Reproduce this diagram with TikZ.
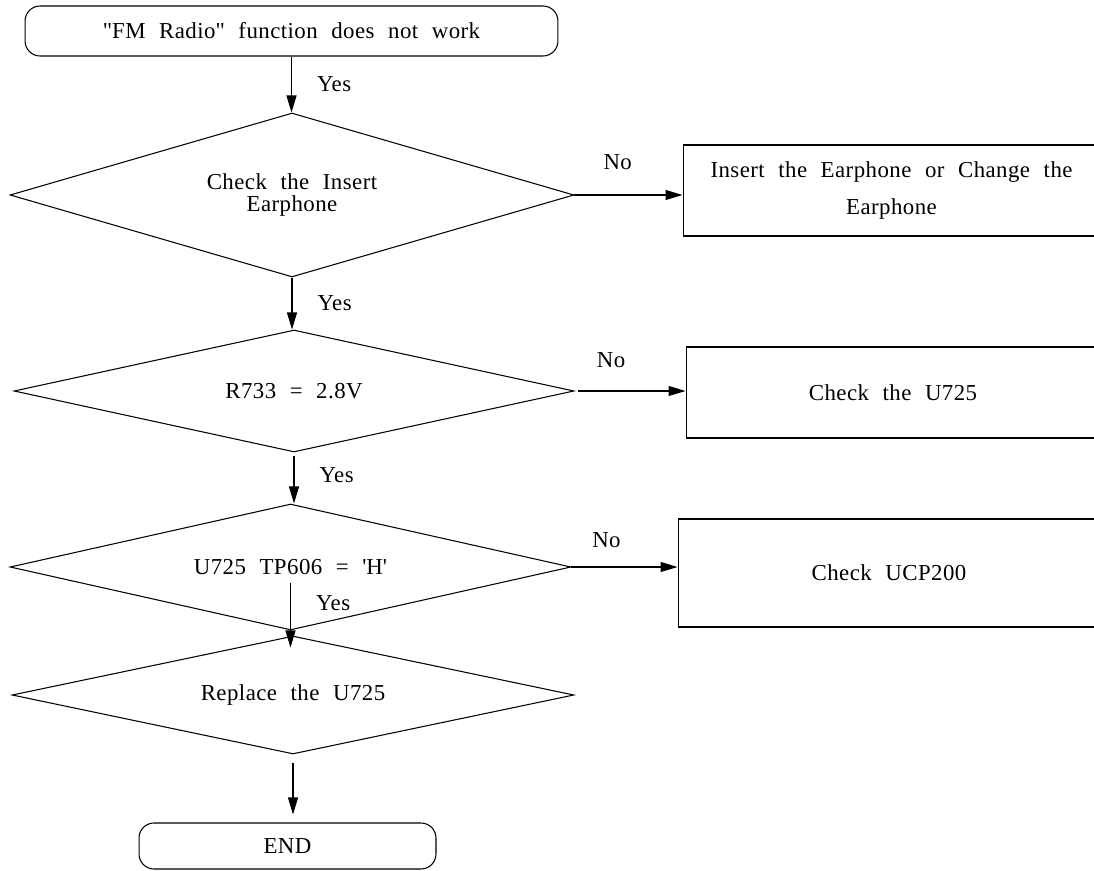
\documentclass[tikz,border=0pt]{standalone}
\usepackage{fontspec}
\setmainfont{Liberation Serif}[WordSpace=2.2, LetterSpace=2]
\usetikzlibrary{shapes.geometric,arrows.meta}

\begin{document}
\begin{tikzpicture}[x=0.02cm, y=-0.02cm,
    font=\fontsize{13}{15}\selectfont,
    line width=0.6pt,
    terminal/.style={draw, rounded corners=0.3cm, inner sep=0pt},
    decision/.style={draw, diamond, inner sep=0pt, align=center},
    action/.style={draw, rectangle, inner sep=0pt, align=center},
    flow/.style={-{Triangle[length=0.34cm, width=0.2cm]}},
    lbl/.style={inner sep=0pt}]
    \useasboundingbox (0,0) rectangle (1094,871);
    \clip (0,0) rectangle (1094,871);

    % Main column
    \node[terminal, minimum width=10.66cm, minimum height=1cm] (start) at (291.5,31)
        {\textquotedbl FM Radio\textquotedbl{} function does not work};
    \node[decision, aspect=3.44, minimum width=11.28cm, minimum height=3.28cm] (d1) at (292,195)
        {Check the Insert\\[-2.5pt]Earphone};
    \node[decision, aspect=4.59, minimum width=11.2cm, minimum height=2.44cm] (d2) at (294,391)
        {R733 = 2.8V};
    \node[decision, aspect=4.45, minimum width=11.22cm, minimum height=2.52cm] (d3) at (290.5,567)
        {U725 TP606 = \textquotesingle H\textquotesingle};
    \node[decision, aspect=4.76, minimum width=11.24cm, minimum height=2.36cm] (d4) at (293,695)
        {Replace the U725};
    \node[terminal, minimum width=5.94cm, minimum height=0.92cm] (end) at (287.5,846)
        {END};

    % Right column
    \node[action, minimum width=8.34cm, minimum height=1.82cm] (b1) at (891.5,190.5)
        {Insert the Earphone or Change the\\[6.6pt]Earphone};
    \node[action, minimum width=8.28cm, minimum height=1.82cm] (b2) at (893,392.5)
        {Check the U725};
    \node[action, minimum width=8.44cm, minimum height=2.16cm] (b3) at (889,573)
        {Check UCP200};

    % Yes arrows
    \draw[flow] (start.south) -- (start.south |- d1.north)
        node[lbl, midway, right=0.5cm] {Yes};
    \draw[flow] (d1.south) -- (d1.south |- d2.north)
        node[lbl, midway, right=0.5cm] {Yes};
    \draw[flow, shorten <=0.06cm] (d2.south) -- (d2.south |- d3.north)
        node[lbl, pos=0.45, right=0.5cm] {Yes};
    \draw[flow, shorten >=0.08cm] ([yshift=-0.32cm]d3.center) -- ([yshift=-0.32cm]d3.center |- d4.north)
        node[lbl, pos=0.3, right=0.5cm] {Yes};
    \draw[flow, shorten <=0.16cm, shorten >=0.16cm] (d4.south) -- (d4.south |- end.north);

    % No arrows
    \draw[flow] (d1.east) -- (b1.west |- d1.east)
        node[lbl, pos=0.4, above=0.5cm] {No};
    \draw[flow, shorten <=0.08cm] (d2.east) -- (b2.west |- d2.east)
        node[lbl, pos=0.33, above=0.45cm] {No};
    \draw[flow] (d3.east) -- (b3.west |- d3.east)
        node[lbl, pos=0.33, above=0.38cm] {No};
\end{tikzpicture}
\end{document}
